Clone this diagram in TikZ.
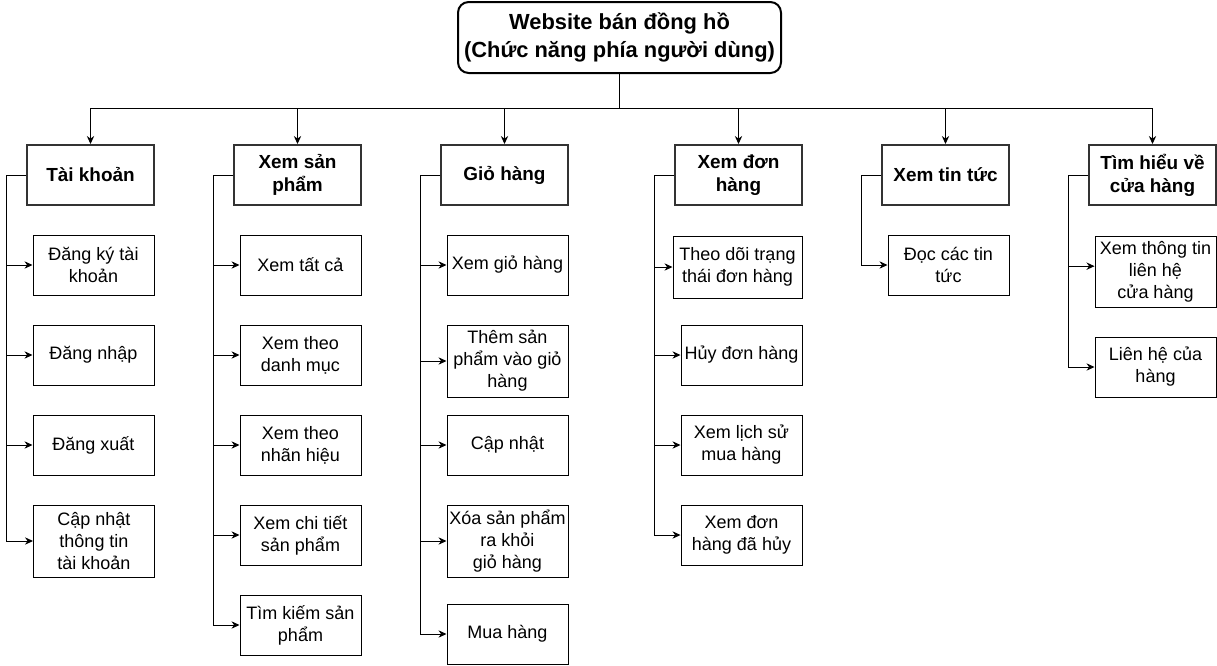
\documentclass[tikz,border=0pt]{standalone}
\usepackage{fontspec}
\setmainfont{Liberation Sans}
\usetikzlibrary{arrows.meta}
\definecolor{vien}{HTML}{333333}
\tikzset{
  goc/.style={draw, line width=1.5pt, rounded corners=8pt, align=center,
    minimum width=242.25pt, minimum height=53.25pt, inner sep=0pt,
    font=\fontsize{16.4pt}{21pt}\selectfont\bfseries},
  nhom/.style={draw=vien, line width=1.5pt, align=center,
    minimum width=95.25pt, minimum height=45pt, inner sep=0pt,
    font=\fontsize{14.2pt}{17.25pt}\selectfont\bfseries},
  chucnang/.style={draw, line width=0.75pt, align=center,
    minimum width=90.75pt, minimum height=45pt, inner sep=0pt,
    font=\fontsize{13.5pt}{16.5pt}\selectfont},
  noi/.style={line width=0.75pt, ->}
}
\begin{document}
\begin{tikzpicture}[x=0.75pt,y=-0.75pt,>={Stealth[length=6pt,width=5.5pt]}]
\useasboundingbox (0,0) rectangle (1217,665);
\node[goc] (root) at (619.5,37.5) {Website bán đồng hồ\\(Chức năng phía người dùng)};
\coordinate (re) at (619.5,108);
% nhom chuc nang
\node[nhom] (tk) at (90.5,175) {Tài khoản};
\node[nhom] (sp) at (297.5,175) {Xem sản\\phẩm};
\node[nhom] (gh) at (504.5,175) {Giỏ hàng};
\node[nhom] (dh) at (738.5,175) {Xem đơn\\hàng};
\node[nhom] (tt) at (945.5,175) {Xem tin tức};
\node[nhom] (th) at (1152.5,175) {Tìm hiểu về\\cửa hàng};
\foreach \n in {tk,sp,gh,dh,tt,th}
  \draw[noi] (root.south) -- (re) -| (\n.north);
% tai khoan
\node[chucnang] (tk1) at (93.5,265) {Đăng ký tài\\khoản};
\node[chucnang] (tk2) at (93.5,355) {Đăng nhập};
\node[chucnang] (tk3) at (93.5,445) {Đăng xuất};
\node[chucnang, minimum height=54pt] (tk4) at (94,541) {Cập nhật\\thông tin\\tài khoản};
\foreach \c in {tk1,tk2,tk3,tk4}
  \draw[noi] (tk.west) -- ++(-20,0) |- (\c.west);
% xem san pham
\node[chucnang] (sp1) at (300.5,265) {Xem tất cả};
\node[chucnang] (sp2) at (300.5,355) {Xem theo\\danh mục};
\node[chucnang] (sp3) at (300.5,445) {Xem theo\\nhãn hiệu};
\node[chucnang] (sp4) at (300.5,535) {Xem chi tiết\\sản phẩm};
\node[chucnang] (sp5) at (300.5,625) {Tìm kiếm sản\\phẩm};
\foreach \c in {sp1,sp2,sp3,sp4,sp5}
  \draw[noi] (sp.west) -- ++(-20,0) |- (\c.west);
% gio hang
\node[chucnang] (gh1) at (507.5,265) {Xem giỏ hàng};
\node[chucnang, minimum height=54pt] (gh2) at (507.5,361) {Thêm sản\\phẩm vào giỏ\\hàng};
\node[chucnang] (gh3) at (507.5,445) {Cập nhật};
\node[chucnang, minimum height=54pt] (gh4) at (507.5,541) {Xóa sản phẩm\\ra khỏi\\giỏ hàng};
\node[chucnang] (gh5) at (507.5,634) {Mua hàng};
\foreach \c in {gh1,gh2,gh3,gh4,gh5}
  \draw[noi] (gh.west) -- ++(-20,0) |- (\c.west);
% xem don hang
\node[chucnang, minimum width=96.75pt, minimum height=46.5pt] (dh1) at (737.5,267) {Theo dõi trạng\\thái đơn hàng};
\node[chucnang] (dh2) at (741.5,355) {Hủy đơn hàng};
\node[chucnang] (dh3) at (741.5,445) {Xem lịch sử\\mua hàng};
\node[chucnang] (dh4) at (741.5,535) {Xem đơn\\hàng đã hủy};
\foreach \c in {dh1,dh2,dh3,dh4}
  \draw[noi] (dh.west) -- ++(-20,0) |- (\c.west);
% tin tuc
\node[chucnang] (tt1) at (948.5,265) {Đọc các tin\\tức};
\draw[noi] (tt.west) -- ++(-20,0) |- (tt1.west);
% cua hang
\node[chucnang, minimum height=53.25pt] (th1) at (1155.5,271.5) {Xem thông tin\\liên hệ\\cửa hàng};
\node[chucnang] (th2) at (1155.5,367) {Liên hệ của\\hàng};
\draw[noi] (th.west) -- ++(-20,0) |- ([yshift=4pt]th1.west);
\draw[noi] (th.west) -- ++(-20,0) |- (th2.west);
\end{tikzpicture}
\end{document}
